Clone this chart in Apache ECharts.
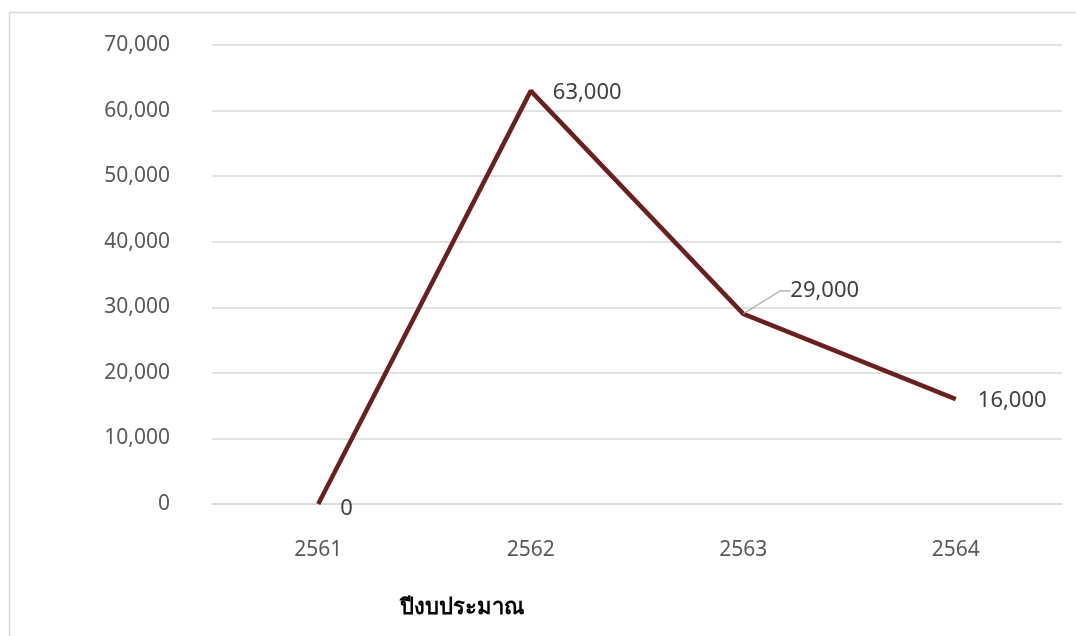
<!DOCTYPE html>
<html><head><meta charset="utf-8">
<script src="https://cdn.jsdelivr.net/npm/echarts@6/dist/echarts.min.js"></script>
<style>html,body{margin:0;padding:0;background:#fff}#c{width:1076px;height:636px}</style>
</head><body><div id="c"></div>
<script>
const categories = ['2561', '2562', '2563', '2564'];
const values = [0, 63000, 29000, 16000];
const yTicks = [0, 10000, 20000, 30000, 40000, 50000, 60000, 70000];
const axisName = 'ปีงบประมาณ';

const FONT = '"Noto Sans", "DejaVu Sans", sans-serif';
const chart = echarts.init(document.getElementById('c'), null, {renderer: 'canvas'});
const fmt = v => v.toLocaleString('en-US');

const data = values.map((v, i) => {
  const d = {value: v};
  if (i === 2) d.labelLine = {show: true};
  return d;
});

chart.setOption({
  animation: false,
  graphic: [{
    type: 'rect', left: 7, top: 10,
    shape: {width: 1200, height: 800},
    style: {fill: 'none', stroke: '#d9d9d9', lineWidth: 1.5}, silent: true, z: -1
  }, {
    type: 'text', left: 400, top: 597,
    style: {text: axisName, font: 'bold 22px ' + FONT, fill: '#000'}
  }],
  grid: {left: 212, right: 14, top: 45, bottom: 132, containLabel: false},
  xAxis: {
    type: 'category', data: categories, boundaryGap: true,
    axisLine: {show: true, lineStyle: {color: '#d9d9d9', width: 1.5}},
    axisTick: {show: false},
    axisLabel: {color: '#595959', fontSize: 21, fontFamily: FONT, margin: 36}
  },
  yAxis: {
    type: 'value', min: yTicks[0], max: yTicks[yTicks.length - 1], interval: 10000,
    axisLine: {show: false}, axisTick: {show: false},
    splitLine: {lineStyle: {color: '#d9d9d9', width: 1.5}},
    axisLabel: {color: '#595959', fontSize: 21, fontFamily: FONT, margin: 42,
      formatter: v => fmt(v)}
  },
  series: [{
    type: 'line', data: data, symbol: 'circle', symbolSize: 0.1, showSymbol: true,
    lineStyle: {color: '#6B2020', width: 4.5},
    itemStyle: {color: '#6B2020'},
    label: {show: true, position: 'right', distance: 22, color: '#404040',
      fontSize: 22, fontFamily: FONT, formatter: p => fmt(p.value)},
    labelLine: {show: false, lineStyle: {color: '#a6a6a6', width: 1.2}, length2: 10},
    labelLayout: function (params) {
      if (params.dataIndex === 2) return {dx: 25, dy: -23};
      if (params.dataIndex === 0) return {dy: 5};
      return {dy: 2};
    }
  }]
});
</script></body></html>
